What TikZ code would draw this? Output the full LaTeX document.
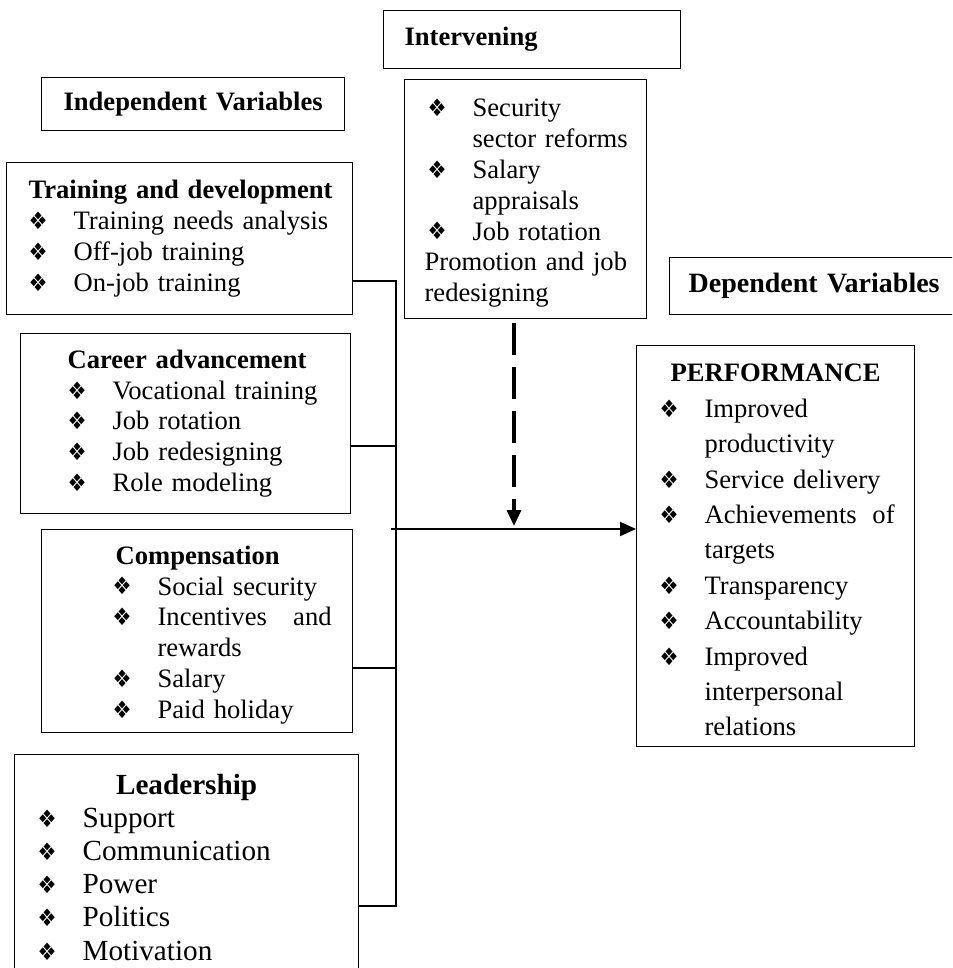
\documentclass[tikz,border=0pt]{standalone}
\usepackage{fontspec}
\usepackage{graphicx}
\setmainfont{Liberation Serif}
\newfontfamily\dingFont{DejaVu Sans}
\usetikzlibrary{arrows.meta}
\newcommand{\bodyFont}{\fontsize{13.3}{15.4}\selectfont}
\newcommand{\leadFont}{\fontsize{14.6}{16.6}\selectfont}
\newcommand{\perfFont}{\fontsize{13.3}{17.7}\selectfont}
\newcommand{\bulGlyph}{\raisebox{\depth}{\resizebox*{9.5pt}{8.8pt}{\dingFont ❖}}}
\newcommand{\bul}{\makebox[22.5pt][l]{\bulGlyph}}
\newcommand{\cont}{\hspace*{22.5pt}}
\newcommand{\topStrut}{\rule{0pt}{13pt}}
\newcommand{\indentBy}[1]{\leftskip = #1\relax}
\newcommand{\boxTitle}[1]{{\leftskip = 0pt plus 1fil\rightskip = 0pt plus 1fil\parfillskip = 0pt\textbf{#1}\par}}
\tikzstyle{diagram} = [x = .5pt, y = -.5pt]
\tikzstyle{varBox} = [draw, line width = .6pt, anchor = north west, inner xsep = 0pt, inner ysep = 0pt, align = left, font = \bodyFont]
\tikzstyle{headBox} = [varBox, align = center, font = \bodyFont\bfseries]
\tikzstyle{linkLine} = [line width = 1pt]
\tikzstyle{linkArrow} = [linkLine, -{Triangle[length = 8pt, width = 7pt]}]
\tikzstyle{moderatorArrow} = [line width = 1.6pt, dash pattern = on 16pt off 6pt, -{Triangle[length = 8pt, width = 7pt]}, shorten <= 2pt, shorten >= 1.5pt]
\begin{document}
\begin{tikzpicture}[diagram]
  \path [use as bounding box, clip] (0, 0) rectangle (952, 968);

  % headings
  \node [headBox, align = left, text width = 148.5pt, minimum height = 29pt] (intTitle) at (383, 10) {\indentBy{10.5pt}Intervening\par};
  \node [headBox, text width = 151.5pt, minimum height = 26.5pt] (indTitle) at (41, 77) {Independent Variables};
  \node [headBox, text width = 144.5pt, minimum height = 28.5pt, font = \fontsize{14}{16}\selectfont\bfseries] (depTitle) at (669, 257) {Dependent Variables};

  % independent variables
  \node [varBox, text width = 173pt, minimum height = 76pt] (tdBox) at (6, 162) {\indentBy{11pt}\textbf{Training and development}\\
    \bul Training needs analysis\\
    \bul Off-job training\\
    \bul On-job training\par};
  \node [varBox, text width = 165pt, minimum height = 90pt] (caBox) at (20, 333) {\indentBy{23.5pt}\textbf{Career advancement}\\
    \bul Vocational training\\
    \bul Job rotation\\
    \bul Job redesigning\\
    \bul Role modeling\par};
  \node [varBox, text width = 155.5pt, minimum height = 101.5pt] (compBox) at (41, 529) {\indentBy{35.5pt}\hspace*{1.5pt}\topStrut\textbf{Compensation}\\
    \bul Social security\\
    \bul Incentives\hfill and\kern10.5pt\\
    \cont rewards\\
    \bul Salary\\
    \bul Paid holiday\par};
  \node [varBox, text width = 172pt, minimum height = 112.5pt, font = \leadFont] (leadBox) at (14, 754) {\boxTitle{Leadership}\indentBy{11.5pt}%
    \bul Support\\
    \bul Communication\\
    \bul Power\\
    \bul Politics\\
    \bul Motivation\par};

  % intervening and dependent variables
  \node [varBox, text width = 121pt, minimum height = 119.5pt] (intBox) at (404, 79) {\indentBy{11.5pt}\topStrut\bul Security\\
    \cont sector reforms\\
    \bul Salary\\
    \cont appraisals\\
    \bul Job rotation\\
    \hspace*{-1.5pt}Promotion and job\\
    \hspace*{-1.5pt}redesigning\par};
  \node [varBox, text width = 139pt, minimum height = 200.5pt, font = \perfFont] (perfBox) at (636, 345) {\boxTitle{\topStrut PERFORMANCE}\indentBy{11.5pt}%
    \bul Improved\\
    \cont productivity\\
    \bul Service delivery\\
    \bul Achievements\hfill of\kern10pt\\
    \cont targets\\
    \bul Transparency\\
    \bul Accountability\\
    \bul Improved\\
    \cont interpersonal\\
    \cont relations\par};

  % connectors
  \coordinate (tdJoin) at (396, 281);
  \coordinate (caJoin) at (396, 446);
  \coordinate (compJoin) at (396, 668);
  \coordinate (leadJoin) at (396, 906);
  \coordinate (hubStart) at (391, 529);
  \coordinate (hubMeet) at (514, 529);
  \draw [linkLine] (tdBox.east |- tdJoin) -- (tdJoin) -- (leadJoin) -- (leadBox.east |- leadJoin);
  \draw [linkLine] (caBox.east |- caJoin) -- (caJoin);
  \draw [linkLine] (compBox.east |- compJoin) -- (compJoin);
  \draw [linkArrow] (hubStart) -- (perfBox.west |- hubStart);
  \draw [moderatorArrow] (intBox.south -| hubMeet) -- (hubMeet);
\end{tikzpicture}
\end{document}
